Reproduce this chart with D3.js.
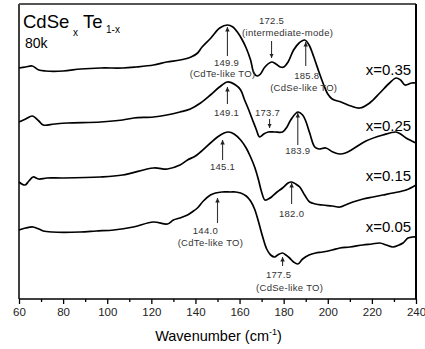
<!DOCTYPE html>
<html>
<head>
<meta charset="utf-8">
<script src="https://cdn.jsdelivr.net/npm/d3@7"></script>
<style>
  body { margin: 0; background: #fff; }
  svg { display: block; font-family: "Liberation Sans", Arial, sans-serif; }
</style>
</head>
<body>
<div id="chart"></div>
<script>
// wavenumber (cm-1) / intensity (a.u., offset) for each composition
let w035 = [60, 63, 66, 69, 72, 80, 88, 97, 107, 113, 121, 127, 133, 138, 141, 143, 147, 151, 154.5, 157, 159, 161, 163, 165, 166.5, 168, 169.5, 171.5, 174.5, 176.5, 178.5, 180, 182, 184.5, 187, 189.5, 191.5, 193.5, 196, 198, 200, 202, 206, 210.5, 214.5, 219, 223.6, 228, 231, 233, 235, 238, 240];
let i035 = [231, 232, 233, 229, 228, 228, 230, 231, 231, 232, 234, 237, 239, 242, 246, 252, 261, 271, 274, 272, 267, 260, 251, 239, 226, 223, 225, 232, 237, 235, 232, 232, 237, 249, 256, 259, 254, 243, 227, 215, 205, 200, 197, 193, 191, 196, 206, 216, 221, 219, 214, 216, 216];

let w025 = [60, 63, 66, 69, 71, 76, 82, 97, 107, 112, 121, 127, 133, 137.7, 142.3, 146.8, 150.9, 154.5, 158.2, 160.5, 162.3, 164, 165.9, 167.5, 169.1, 171, 173, 176, 179.5, 181.5, 183.2, 186.4, 188.6, 190, 191.8, 194.1, 196, 199.1, 202.3, 205.5, 208, 211.4, 217.3, 225, 230.9, 233, 235.5, 240];
let i025 = [177, 180, 183, 178, 174, 175, 176, 177, 179, 181, 182, 184, 187, 190, 196, 204, 212, 217, 214, 209, 199, 190, 179, 170, 162, 165, 167, 167, 167, 172, 179, 187, 184, 178, 166, 152, 150, 151, 147, 145, 146, 150, 158, 164, 167, 165, 161, 156];

let w015 = [60, 62.7, 64.5, 66.4, 69, 72.7, 80, 96.8, 107, 121, 127.3, 133, 136.4, 140, 142.3, 146.8, 150, 153, 155, 157.5, 160.5, 163, 165, 167, 168.6, 170, 171.5, 173, 174.5, 177, 179.5, 182, 183.6, 185.5, 187.3, 189.5, 191.8, 194.5, 197.7, 202, 205.5, 208, 211.4, 216, 220.5, 225, 229.5, 235.5, 240];
let i015 = [117, 114, 118, 122, 120, 121, 121, 122, 124, 131, 130, 134, 139, 143, 147, 156, 162, 166, 167, 165, 159, 151, 142, 131, 119, 107, 99, 100, 102, 107, 111, 116, 117, 115, 112, 104, 97, 95, 94, 93, 92, 94, 97, 100, 102, 104, 106, 109, 114];

let w005 = [60, 63, 66.4, 69, 71, 75, 87.7, 95, 103, 111.8, 120.9, 127.3, 130, 133, 136.4, 138.5, 140.9, 143.6, 146.8, 149.1, 152, 155.9, 158.2, 160.5, 163, 165, 166.8, 168.5, 170.5, 172.3, 174.1, 176, 177.3, 179.5, 181, 182.7, 184.5, 186.4, 188.6, 191.5, 194.5, 197.7, 202, 205.5, 210, 215.9, 220, 223.6, 226.5, 229.5, 232.3, 234.1, 236.4, 238.5, 240];
let i005 = [69, 71, 72, 70, 68, 67, 67, 68, 69, 72, 77, 75, 79, 81, 84, 87, 91, 98, 104, 106, 107, 107, 107, 106, 103, 98, 90, 78, 62, 50, 44, 42, 44, 46, 44, 41, 37, 35, 40, 44, 46, 47, 49, 51, 52, 54, 55, 56, 54, 52, 54, 56, 61, 62, 62];

let seriesNames = ["x=0.35", "x=0.25", "x=0.15", "x=0.05"];
let seriesLabelY = [229, 173, 123, 72];

let xTicks = [60, 80, 100, 120, 140, 160, 180, 200, 220, 240];
let xMinorTicks = [70, 90, 110, 130, 150, 170, 190, 210, 230];

// peak annotations: arrow at x, from tail to head (intensity units), then text lines
let notes = [
  {x: 154.5, tail: 243, head: 272, lines: [{t: "149.9", x: 154.1, y: 236}, {t: "(CdTe-like TO)", x: 152.3, y: 225}]},
  {x: 174.5, tail: 258, head: 241, lines: [{t: "172.5", x: 174.5, y: 278}, {t: "(intermediate-mode)", x: 181.8, y: 266}]},
  {x: 190, tail: 233, head: 257, lines: [{t: "185.8", x: 190.5, y: 223}, {t: "(CdSe-like TO)", x: 189.1, y: 211}]},
  {x: 154.5, tail: 195, head: 212, lines: [{t: "149.1", x: 154.1, y: 186}]},
  {x: 173.6, tail: 180, head: 171, lines: [{t: "173.7", x: 172.7, y: 186}]},
  {x: 186.4, tail: 154, head: 186, lines: [{t: "183.9", x: 186.4, y: 148}]},
  {x: 152.3, tail: 139, head: 159, lines: [{t: "145.1", x: 152.3, y: 132}]},
  {x: 183.6, tail: 95, head: 116, lines: [{t: "182.0", x: 183.6, y: 85}]},
  {x: 150, tail: 76, head: 101, lines: [{t: "144.0", x: 144.5, y: 68}, {t: "(CdTe-like TO)", x: 146.8, y: 56}]},
  {x: 179.5, tail: 33, head: 42, lines: [{t: "177.5", x: 177.7, y: 24}, {t: "(CdSe-like TO)", x: 182.7, y: 11}]}
];

let width = 425, height = 349;
let margin = {top: 4, right: 9, bottom: 50, left: 19};

let svg = d3.select("#chart")
            .append("svg")
            .attr("width", width)
            .attr("height", height);

let x = d3.scaleLinear()
          .domain([60, 240])
          .range([margin.left, width - margin.right]);

let y = d3.scaleLinear()
          .domain([0, 295])
          .range([height - margin.bottom, margin.top]);

// arrow head
svg.append("defs").append("marker")
   .attr("id", "head")
   .attr("viewBox", "0 0 10 10")
   .attr("refX", 10).attr("refY", 5)
   .attr("markerWidth", 4.5).attr("markerHeight", 5)
   .attr("markerUnits", "userSpaceOnUse")
   .attr("orient", "auto")
   .append("path")
   .attr("d", "M0,0 L10,5 L0,10 Z")
   .style("fill", "#222");

// bottom axis, major + minor ticks
let xAxis = svg.append("g")
   .attr("transform", "translate(0," + y(0) + ")")
   .call(d3.axisBottom(x).tickValues(xTicks).tickSize(5).tickSizeOuter(0).tickPadding(4));
xAxis.select(".domain").remove();
xAxis.selectAll("text").style("font-size", "11.5px").style("fill", "#222");
xAxis.selectAll("line").style("stroke-width", 1.3);

svg.append("g")
   .attr("transform", "translate(0," + y(0) + ")")
   .call(d3.axisBottom(x).tickValues(xMinorTicks).tickSize(3).tickFormat("").tickSizeOuter(0))
   .call(g => g.select(".domain").remove())
   .selectAll("line").style("stroke-width", 1.3);

// frame
svg.append("line").attr("x1", x(60)).attr("x2", x(240)).attr("y1", y(0)).attr("y2", y(0))
   .style("stroke", "#000").style("stroke-width", 1.5);
svg.append("line").attr("x1", x(60)).attr("x2", x(60)).attr("y1", y(0)).attr("y2", y(295))
   .style("stroke", "#000").style("stroke-width", 1.5);
svg.append("line").attr("x1", x(60)).attr("x2", x(240)).attr("y1", y(295)).attr("y2", y(295))
   .style("stroke", "#555").style("stroke-width", 2);
svg.append("line").attr("x1", x(240)).attr("x2", x(240)).attr("y1", y(0)).attr("y2", y(295))
   .style("stroke", "#000").style("stroke-width", 2);

// spectra
let series = [[w035, i035], [w025, i025], [w015, i015], [w005, i005]];
let line = d3.line()
             .x(d => x(d[0]))
             .y(d => y(d[1]))
             .curve(d3.curveCatmullRom.alpha(0.5));

svg.selectAll("path.spec")
   .data(series)
   .enter()
   .append("path")
   .attr("class", "spec")
   .attr("d", s => line(d3.zip(s[0], s[1])))
   .style("fill", "none")
   .style("stroke", "#000")
   .style("stroke-width", 1.7)
   .style("stroke-linejoin", "round");

svg.selectAll("text.sname")
   .data(seriesNames)
   .enter()
   .append("text")
   .attr("class", "sname")
   .attr("x", x(237.8))
   .attr("y", (d, i) => y(seriesLabelY[i]))
   .attr("dy", "0.35em")
   .attr("text-anchor", "end")
   .style("font-size", "15px")
   .style("fill", "#000")
   .text(d => d);

// annotations
let ann = svg.selectAll("g.note")
   .data(notes)
   .enter()
   .append("g")
   .attr("class", "note");

ann.append("line")
   .attr("x1", d => x(d.x)).attr("x2", d => x(d.x))
   .attr("y1", d => y(d.tail)).attr("y2", d => y(d.head))
   .attr("marker-end", "url(#head)")
   .style("stroke", "#333")
   .style("stroke-width", 1.1);

ann.selectAll("text")
   .data(d => d.lines)
   .enter()
   .append("text")
   .attr("x", d => x(d.x))
   .attr("y", d => y(d.y))
   .attr("dy", "0.35em")
   .attr("text-anchor", "middle")
   .style("font-size", "9.5px")
   .style("letter-spacing", "0.3px")
   .style("fill", "#333")
   .text(d => d.t);

// title and temperature
let title = svg.append("g");
title.append("text").attr("x", 23).attr("y", 28).style("font-size", "18.5px").text("CdSe");
title.append("text").attr("x", 73).attr("y", 36).style("font-size", "10px").text("x");
title.append("text").attr("x", 83).attr("y", 28).style("font-size", "18.5px").text("Te");
title.append("text").attr("x", 106).attr("y", 33).style("font-size", "10px").text("1-x");
svg.append("text").attr("x", 25).attr("y", 48).style("font-size", "14px").text("80k");

// x axis title
let xt = svg.append("text")
   .attr("x", (x(60) + x(240)) / 2 + 1)
   .attr("y", 341)
   .attr("text-anchor", "middle")
   .style("font-size", "14.5px");
xt.append("tspan").text("Wavenumber (cm");
xt.append("tspan").attr("dy", -6).style("font-size", "9px").text("-1");
xt.append("tspan").attr("dy", 6).text(")");
</script>
</body>
</html>
